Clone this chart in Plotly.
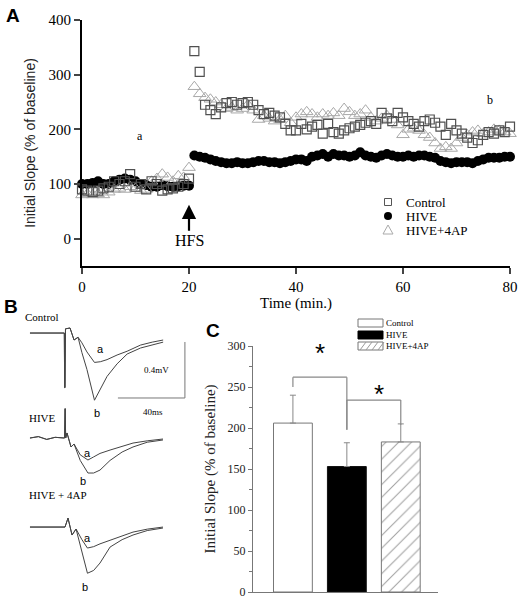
import plotly.graph_objects as go

W, H = 525, 599
def px(x): return x / W
def py(y): return 1 - y / H

SERIF = "Liberation Serif"
SANS = "Liberation Sans"

# ---------------- Panel A data ----------------
time_min = list(range(0, 81))
control = [90, 88, 85, 88, 92, 95, 105, 100, 105, 118, 95, 100, 90, 105, 100, 88, 90, 92, 95, 100, 110,
           343, 305, 245, 235, 228, 240, 248, 250, 245, 248, 250, 245, 235, 228, 230, 225, 222, 210, 198,
           198, 210, 200, 205, 208, 192, 210, 195, 192, 198, 202, 205, 208, 212, 215, 210, 230, 220, 215,
           230, 222, 215, 210, 205, 215, 218, 212, 205, 190, 210, 198, 192, 185, 175, 180, 190, 195, 192,
           198, 195, 205]
hive = [100, 100, 102, 105, 100, 100, 105, 108, 110, 108, 105, 100, 98, 95, 95, 98, 96, 95, 96, 97, 97,
        152, 150, 148, 145, 142, 140, 138, 138, 140, 138, 138, 140, 142, 142, 140, 140, 138, 140, 142,
        145, 145, 142, 150, 152, 155, 150, 155, 152, 152, 150, 152, 158, 152, 150, 148, 152, 155, 152,
        150, 150, 152, 150, 152, 152, 150, 148, 142, 140, 138, 140, 140, 140, 138, 142, 145, 148, 148,
        148, 150, 150]
hive_4ap = [80, 82, 80, 82, 80, 85, 90, 92, 90, 95, 92, 88, 90, 105, 110, 118, 112, 105, 115, 112, 130,
            278, 265, 258, 255, 250, 245, 238, 240, 235, 238, 245, 235, 218, 225, 220, 215, 218, 225, 212,
            222, 228, 232, 228, 222, 228, 225, 230, 225, 238, 232, 225, 228, 235, 222, 215, 220, 225, 218,
            208, 190, 200, 202, 198, 190, 185, 175, 165, 168, 165, 175, 185, 190, 195, 198, 192, 195, 200,
            198, 195, 192]
series_names = ["Control", "HIVE", "HIVE+4AP"]
a_ticks = [0, 20, 40, 60, 80]
a_yticks = [0, 100, 200, 300, 400]
hfs_time = 20

# ---------------- Panel B data (ms, mV) ----------------
ctl_t = [0, 20.5, 20.7, 20.9, 21.2, 23.9, 26.3, 28.7, 31, 34, 38.5, 42, 46, 52, 58, 66, 73, 79.5]
ctl_a = [0, 0, -0.39, -0.39, 0.03, 0.036, -0.05, -0.03, -0.07, -0.135, -0.21, -0.205, -0.19, -0.157, -0.13, -0.086, -0.065, -0.05]
ctl_b = [0, 0, -0.39, -0.39, 0.03, 0.036, -0.05, -0.03, -0.14, -0.26, -0.48, -0.4, -0.31, -0.22, -0.15, -0.107, -0.085, -0.065]
hv_t = [0, 5, 10, 15, 20.6, 20.8, 21.0, 21.3, 22.1, 24.5, 26.3, 30, 34.6, 38, 41.8, 47.8, 55, 61.5, 70, 79.4]
hv_a = [0, 0.01, -0.01, 0.005, 0, 0.21, 0.21, 0.0, 0.036, -0.064, -0.043, -0.12, -0.157, -0.135, -0.11, -0.086, -0.06, -0.036, -0.02, -0.007]
hv_b = [0, 0.01, -0.01, 0.005, 0, 0.21, 0.21, 0.0, 0.036, -0.064, -0.043, -0.16, -0.25, -0.25, -0.229, -0.16, -0.1, -0.064, -0.03, -0.014]
ap_t = [0, 20.9, 22.7, 25.1, 27.5, 31, 34.3, 38, 41.8, 47.8, 55, 61.5, 70, 79.4]
ap_a = [0, 0, 0.064, -0.057, -0.014, -0.09, -0.15, -0.14, -0.12, -0.093, -0.06, -0.036, -0.015, 0]
ap_b = [0, 0, 0.064, -0.057, -0.014, -0.186, -0.33, -0.31, -0.257, -0.143, -0.09, -0.057, -0.025, -0.007]
scale_ms = 40
scale_mv = 0.4

# ---------------- Panel C data ----------------
groups = ["Control", "HIVE", "HIVE+4AP"]
means = [206, 153, 183]
sems = [34, 29, 22]

fig = go.Figure()

# ---- Panel A traces
fig.add_trace(go.Scatter(x=time_min, y=hive, mode="markers", name="HIVE",
                         marker=dict(symbol="circle", size=10, color="black"),
                         xaxis="x", yaxis="y", cliponaxis=False, showlegend=False))
fig.add_trace(go.Scatter(x=time_min, y=hive_4ap, mode="markers", name="HIVE+4AP",
                         marker=dict(symbol="triangle-up-open", size=11, color="#a8a8a8",
                                     line=dict(width=1)),
                         xaxis="x", yaxis="y", cliponaxis=False, showlegend=False))
fig.add_trace(go.Scatter(x=time_min, y=control, mode="markers", name="Control",
                         marker=dict(symbol="square-open", size=9, color="#505050",
                                     line=dict(width=1.2)),
                         xaxis="x", yaxis="y", cliponaxis=False, showlegend=False))

# ---- Panel B traces
offsets = [0, -0.75, -1.386]
wave_sets = [(ctl_t, ctl_a, ctl_b), (hv_t, hv_a, hv_b), (ap_t, ap_a, ap_b)]
for off, (t, va, vb) in zip(offsets, wave_sets):
    for v in (va, vb):
        fig.add_trace(go.Scatter(x=t, y=[y + off for y in v], mode="lines",
                                 line=dict(color="#444444", width=1),
                                 xaxis="x2", yaxis="y2", showlegend=False, hoverinfo="skip"))

# ---- Panel C bars
fig.add_trace(go.Bar(x=[0, 1, 2], y=means, width=0.72,
                     marker=dict(color=["white", "black", "white"],
                                 line=dict(color=["#777777", "#111111", "#777777"], width=1),
                                 pattern=dict(shape=["", "", "/"], fgcolor="#888888",
                                              size=9, solidity=0.12)),
                     error_y=dict(type="data", symmetric=False, array=sems, arrayminus=[0, 0, 0],
                                  color="#888888", thickness=1, width=3),
                     xaxis="x3", yaxis="y3", showlegend=False))

# significance brackets (data coords of panel C)
brackets = [(0, 1, 262, 250, 198), (1, 2, 234, 198, 204)]
shapes = []
for x0, x1, top, l_bot, r_bot in brackets:
    for xs, ys in [((x0, x0), (l_bot, top)), ((x0, x1), (top, top)), ((x1, x1), (top, r_bot))]:
        shapes.append(dict(type="line", xref="x3", yref="y3", x0=xs[0], x1=xs[1], y0=ys[0], y1=ys[1],
                           line=dict(color="#888888", width=1.2)))

# scale bar in panel B
sb_t, sb_v = 92.5, -0.464
shapes.append(dict(type="line", xref="x2", yref="y2", x0=sb_t - scale_ms, x1=sb_t, y0=sb_v, y1=sb_v,
                   line=dict(color="#777777", width=1)))
shapes.append(dict(type="line", xref="x2", yref="y2", x0=sb_t, x1=sb_t, y0=sb_v, y1=sb_v + scale_mv,
                   line=dict(color="#777777", width=1)))

# Panel A manual legend
leg_x, leg_y = 388, [202, 216, 230]
s = 3.5
shapes.append(dict(type="rect", xref="paper", yref="paper", x0=px(leg_x - s), x1=px(leg_x + s),
                   y0=py(leg_y[0] + s), y1=py(leg_y[0] - s), line=dict(color="#555555", width=1)))
shapes.append(dict(type="circle", xref="paper", yref="paper", x0=px(leg_x - 4), x1=px(leg_x + 4),
                   y0=py(leg_y[1] + 4), y1=py(leg_y[1] - 4), fillcolor="black", line=dict(color="black", width=0)))
shapes.append(dict(type="path", xref="paper", yref="paper",
                   path=f"M {px(leg_x-5)} {py(leg_y[2]+4)} L {px(leg_x+5)} {py(leg_y[2]+4)} L {px(leg_x)} {py(leg_y[2]-5)} Z",
                   line=dict(color="#aaaaaa", width=1)))

# Panel C manual legend
cl_x0, cl_x1, cl_y = 358, 383, [323, 335, 346]
fills = ["white", "black", "white"]
for i, yy in enumerate(cl_y):
    shapes.append(dict(type="rect", xref="paper", yref="paper", x0=px(cl_x0), x1=px(cl_x1),
                       y0=py(yy + 4), y1=py(yy - 4), fillcolor=fills[i],
                       line=dict(color="#777777" if i != 1 else "black", width=1)))
for k in range(4):
    xa = cl_x0 + 2 + k * 6
    shapes.append(dict(type="line", xref="paper", yref="paper", x0=px(xa), x1=px(xa + 6),
                       y0=py(cl_y[2] + 4), y1=py(cl_y[2] - 4), line=dict(color="#999999", width=1)))

annotations = []
def ann(text, x, y, size, font=SERIF, xref="paper", yref="paper", xanchor="center", color="black", **kw):
    annotations.append(dict(text=text, x=x, y=y, xref=xref, yref=yref, showarrow=False,
                            xanchor=xanchor, yanchor="middle",
                            font=dict(family=font, size=size, color=color), **kw))

# panel letters
ann("<b>A</b>", px(13), py(15), 19, font=SANS)
ann("<b>B</b>", px(11), py(307), 19, font=SANS)
ann("<b>C</b>", px(213), py(330), 19, font=SANS)

# Panel A labels
ann("a", 10.8, 187, 12, xref="x", yref="y")
ann("b", 76.3, 253, 12, xref="x", yref="y")
annotations.append(dict(text="HFS", x=hfs_time, y=62, xref="x", yref="y", ax=hfs_time, ay=-4,
                        axref="x", ayref="y", showarrow=True, arrowhead=2, arrowsize=1.3,
                        arrowwidth=2.2, arrowcolor="black",
                        font=dict(family=SERIF, size=16, color="black")))
for nm, yy in zip(series_names, leg_y):
    ann(nm, px(404), py(yy), 13, xanchor="left")

# Panel B labels
ann("Control", px(42), py(317), 11)
ann("HIVE", px(42), py(418), 11)
ann("HIVE + 4AP", px(58), py(495), 11)
ann("0.4mV", 75.8, -0.264, 9, xref="x2", yref="y2")
ann("40ms", 73.4, -0.564, 9, xref="x2", yref="y2")
for tx, ty, lab in [(41.8, -0.114, "a"), (40, -0.571, "b"), (34.6, -0.857, "a"), (31.6, -1.055, "b"),
                    (34.6, -1.465, "a"), (32.8, -1.815, "b")]:
    ann(lab, tx, ty, 11, font=SANS, xref="x2", yref="y2")

# Panel C labels
ann("*", 0.5, 291, 26, font=SANS, xref="x3", yref="y3")
ann("*", 1.6, 241, 26, font=SANS, xref="x3", yref="y3")
for nm, yy in zip(groups, cl_y):
    ann(nm, px(384), py(yy), 9, xanchor="left")

fig.update_layout(
    width=W, height=H, margin=dict(l=0, r=0, t=0, b=0, autoexpand=False),
    paper_bgcolor="white", plot_bgcolor="white",
    shapes=shapes, annotations=annotations,
    xaxis=dict(domain=[px(82), px(510)], range=[0, 80], tickvals=a_ticks, ticks="outside",
               ticklen=6, tickwidth=2, showline=True, linewidth=2, linecolor="black",
               showgrid=False, zeroline=False, anchor="y", automargin=False,
               tickfont=dict(family=SERIF, size=15, color="black"),
               title=dict(text="Time (min.)", font=dict(family=SERIF, size=15, color="black"), standoff=3)),
    yaxis=dict(domain=[py(266), py(20)], range=[-50, 400], tickvals=a_yticks, ticks="outside",
               ticklen=6, tickwidth=2, showline=True, linewidth=2, linecolor="black",
               showgrid=False, zeroline=False, anchor="x", automargin=False,
               tickfont=dict(family=SERIF, size=15, color="black"),
               title=dict(text="Initial Slope (% of baseline)", font=dict(family=SANS, size=14, color="#222"),
                          standoff=10)),
    xaxis2=dict(domain=[0, px(200)], range=[-17.9, 101.5], visible=False, anchor="y2", automargin=False),
    yaxis2=dict(domain=[0, py(300)], range=[-1.9, 0.236], visible=False, anchor="x2", automargin=False),
    xaxis3=dict(domain=[px(253), px(438)], range=[-0.74, 2.69], showline=True, linewidth=1,
                linecolor="#777777", showticklabels=False, ticks="", showgrid=False, zeroline=False,
                anchor="y3", automargin=False),
    yaxis3=dict(domain=[py(592), py(346)], range=[0, 300], dtick=50, ticks="outside", ticklen=4,
                tickcolor="#777777", showline=True, linewidth=1, linecolor="#777777",
                showgrid=False, zeroline=False, anchor="x3", automargin=False,
                ticklabeloverflow="allow",
                minor=dict(dtick=25, ticks="outside", ticklen=3, tickcolor="#777777"),
                tickfont=dict(family=SERIF, size=12, color="#222"),
                title=dict(text="Initial Slope (% of baseline)", font=dict(family=SERIF, size=15, color="#222"),
                           standoff=8)),
)

fig.write_html("out.html", config={"displayModeBar": False},
               post_script="document.body.style.margin='0';document.body.style.overflow='hidden';")
